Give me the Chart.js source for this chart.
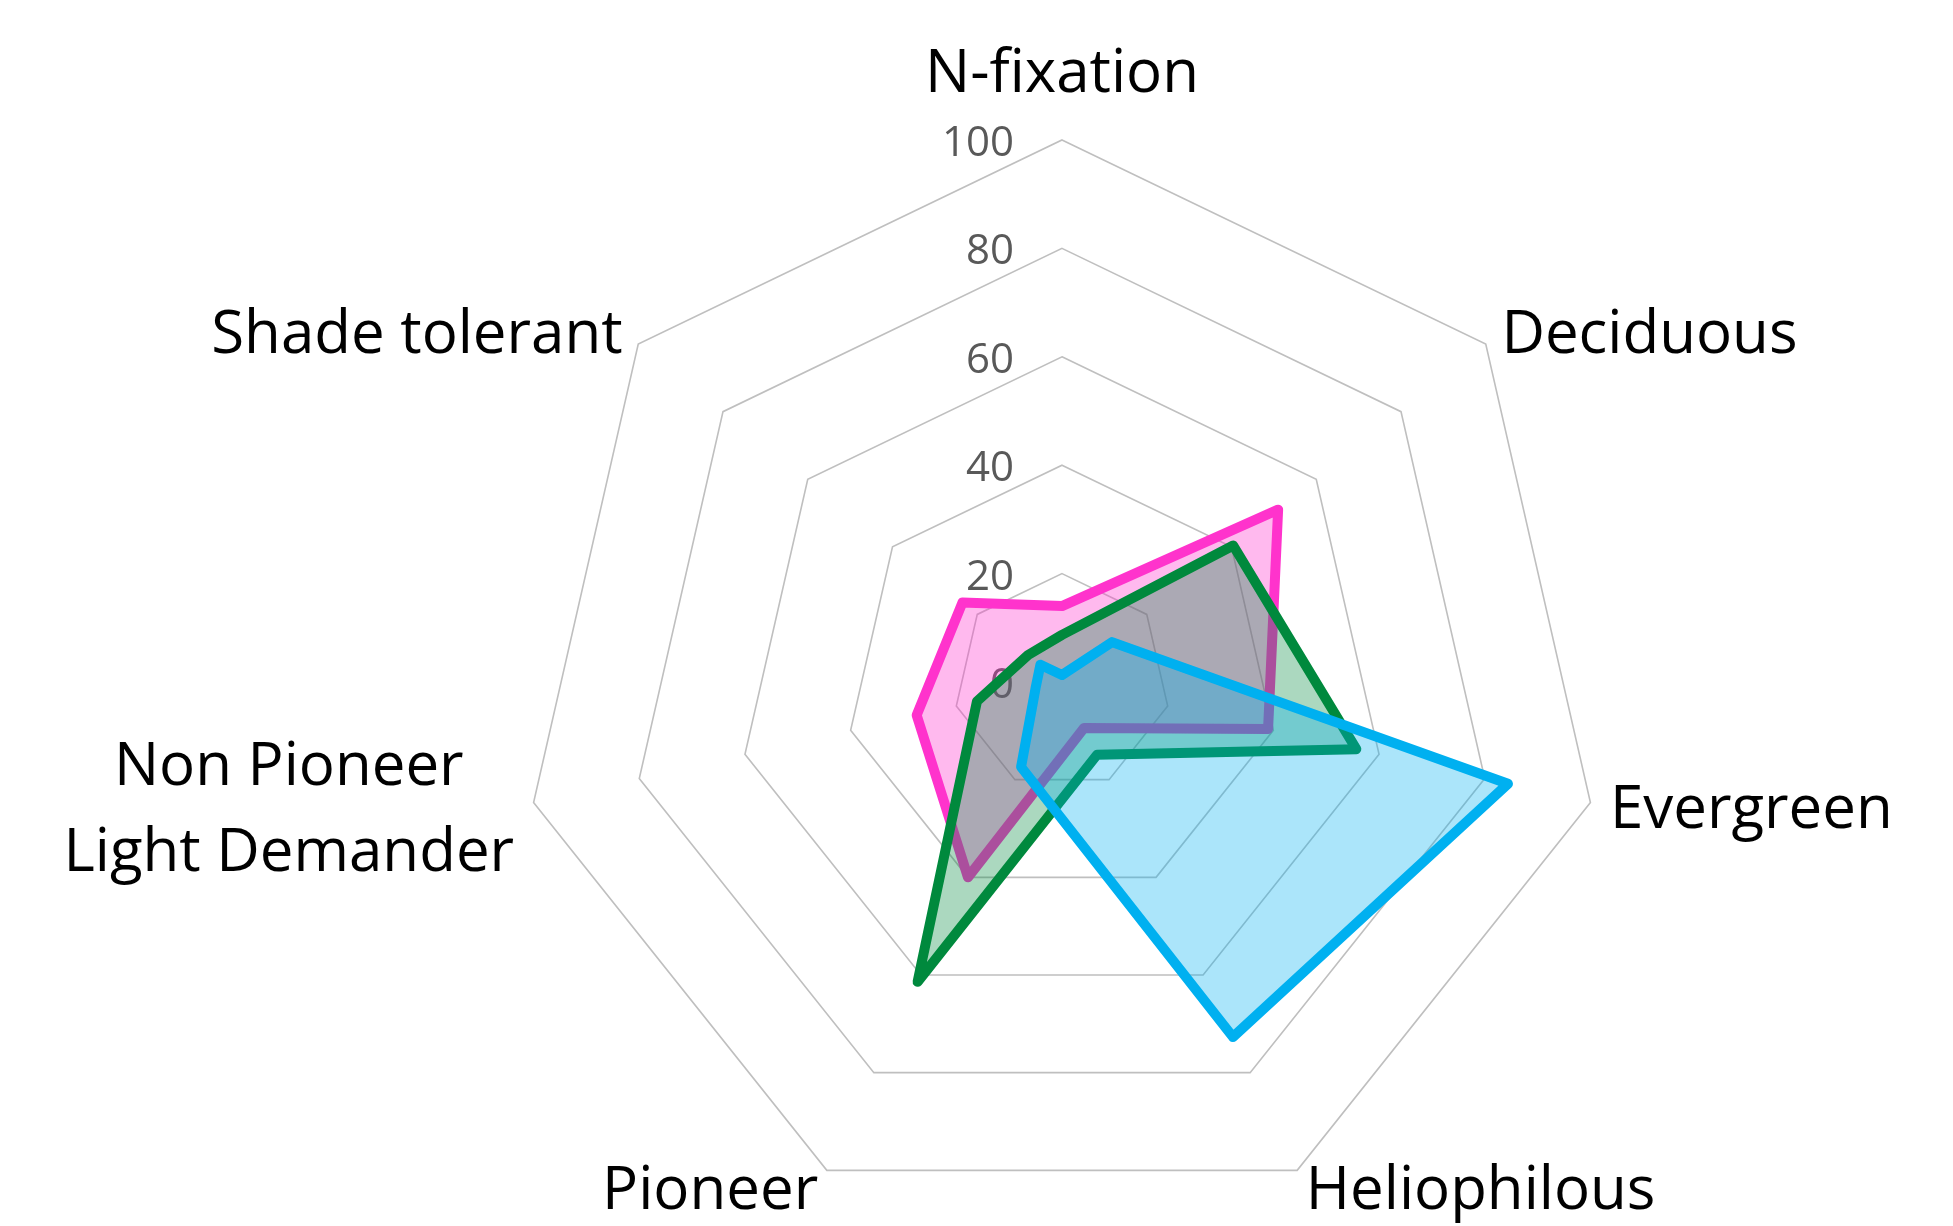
<!DOCTYPE html>
<html lang="en">
<head>
  <meta charset="UTF-8" />
  <title>Trait Radar</title>
  <script src="https://cdn.jsdelivr.net/npm/chart.js"></script>
  <style>
    html, body { margin: 0; padding: 0; background: #fff; }
    #wrap { width: 1953px; height: 1226px; position: relative; }
  </style>
</head>
<body>
  <div id="wrap"><canvas id="radar"></canvas></div>

  <script>
    const traits = ['N-fixation', 'Deciduous', 'Evergreen', 'Heliophilous', 'Pioneer', ['Non Pioneer', 'Light Demander'], 'Shade tolerant'];
    const pinkValues = [14, 51, 39, 9.4, 40, 27.5, 23.5];
    const greenValues = [8.7, 40.4, 55.7, 14.9, 61.4, 16.1, 8];
    const blueValues = [1.3, 11.8, 84.4, 72.7, 17.4, 5, 5.1];
    const tickValues = [0, 20, 40, 60, 80, 100];

    // value labels sit left of the vertical axis, under the filled areas
    const tickLabels = {
      id: 'tickLabels',
      beforeDatasetsDraw(chart) {
        const r = chart.scales.r;
        const ctx = chart.ctx;
        ctx.save();
        ctx.font = '42px "Open Sans"';
        ctx.fillStyle = '#595959';
        ctx.textAlign = 'right';
        ctx.textBaseline = 'middle';
        tickValues.forEach(v => {
          ctx.fillText(String(v), r.xCenter - 48, r.yCenter - r.getDistanceFromCenterForValue(v) + 4);
        });
        ctx.restore();
      }
    };

    // category labels, placed next to each outer vertex
    const traitLabels = {
      id: 'traitLabels',
      afterDraw(chart) {
        const r = chart.scales.r;
        const ctx = chart.ctx;
        const lineH = 86;
        ctx.save();
        ctx.font = '60px "Open Sans"';
        ctx.fillStyle = '#000';
        ctx.textBaseline = 'middle';
        ctx.textAlign = 'center';
        traits.forEach((label, i) => {
          const lines = [].concat(label);
          const p = r.getPointPosition(i, r.drawingArea + 20);
          const dx = p.x - r.xCenter;
          const w = Math.max(...lines.map(t => ctx.measureText(t).width));
          let cx, cy = p.y + 4;
          if (Math.abs(dx) < 1) {
            cx = p.x;
            cy = p.y - 45;
          } else if (dx > 0) {
            cx = p.x + w / 2;
          } else {
            cx = p.x - w / 2;
          }
          lines.forEach((t, k) => {
            ctx.fillText(t, cx, cy + (k - (lines.length - 1) / 2) * lineH);
          });
        });
        ctx.restore();
      }
    };

    new Chart(document.getElementById('radar'), {
      type: 'radar',
      data: {
        labels: traits,
        datasets: [
          {
            label: 'Blue',
            data: blueValues,
            borderColor: '#00B0F0',
            backgroundColor: 'rgba(0,176,240,0.33)',
            fill: true
          },
          {
            label: 'Green',
            data: greenValues,
            borderColor: '#00893D',
            backgroundColor: 'rgba(0,137,61,0.33)',
            fill: true
          },
          {
            label: 'Pink',
            data: pinkValues,
            borderColor: '#FF33CC',
            backgroundColor: 'rgba(255,51,204,0.34)',
            fill: true
          }
        ]
      },
      options: {
        responsive: true,
        maintainAspectRatio: false,
        animation: false,
        layout: { padding: { top: 140, bottom: 1, left: 512, right: 341 } },
        plugins: {
          legend: { display: false },
          tooltip: { enabled: false }
        },
        elements: {
          line: { borderWidth: 10, borderJoinStyle: 'round', tension: 0 },
          point: { radius: 0, hoverRadius: 0 }
        },
        scales: {
          r: {
            min: 0,
            max: 100,
            ticks: { display: false, stepSize: 20 },
            grid: { color: '#BFBFBF', lineWidth: 1.6 },
            angleLines: { display: false },
            pointLabels: { display: false }
          }
        }
      },
      plugins: [tickLabels, traitLabels]
    });
  </script>
</body>
</html>
